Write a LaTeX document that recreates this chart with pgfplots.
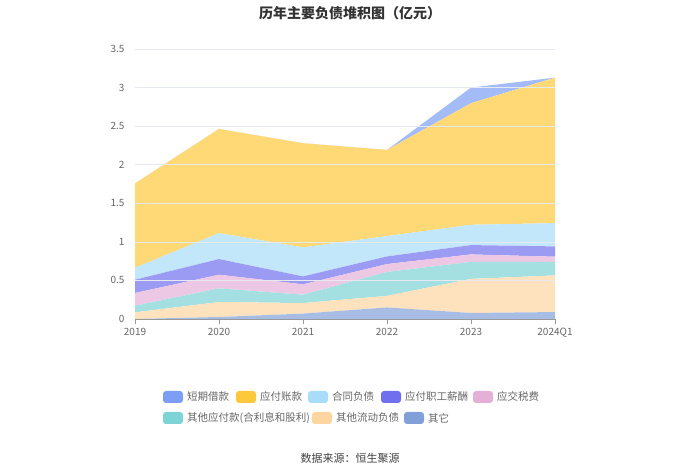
\documentclass[border=0pt]{standalone}
\usepackage{pgfplots}
\pgfplotsset{compat=1.18}
\usepackage{fontspec}
\setmainfont{Liberation Sans}
\newfontfamily\cjk{Noto Sans CJK SC}
\definecolor{cA}{HTML}{7C9FF5}
\definecolor{cB}{HTML}{FDC83C}
\definecolor{cC}{HTML}{A8DCF8}
\definecolor{cD}{HTML}{7070EF}
\definecolor{cE}{HTML}{E5B0D8}
\definecolor{cF}{HTML}{7DD3D5}
\definecolor{cG}{HTML}{FDD5A0}
\definecolor{cH}{HTML}{82A0D8}
\definecolor{gridc}{HTML}{E6E9F0}
\definecolor{txt}{HTML}{666666}
\begin{document}
\begin{tikzpicture}[x=1pt,y=1pt]
\path[use as bounding box] (0,0) rectangle (700,473);
\begin{axis}[
  at={(135pt,154pt)}, anchor=origin,
  scale only axis, width=420pt, height=270pt,
  xmin=0, xmax=5, ymin=0, ymax=3.5,
  stack plots=y, area style,
  xtick={0,1,2,3,4,5},
  xticklabels={2019,2020,2021,2022,2023,2024Q1},
  ytick={0,0.5,1,1.5,2,2.5,3,3.5},
  yticklabels={0,0.5,1,1.5,2,2.5,3,3.5},
  ymajorgrids, grid style={gridc, line width=0.6pt},
  separate axis lines,
  axis x line*=bottom, axis y line*=left,
  y axis line style={draw=none},
  x axis line style={draw=gray!80, line width=0.6pt},
  tick align=outside, major tick length=5pt,
  ytick style={draw=none},
  xtick style={draw=gray!80, line width=0.6pt},
  ticklabel style={font=\cjk\fontsize{10}{12}\selectfont, text=txt},
  yticklabel style={xshift=-2pt},
  xticklabel style={yshift=-1pt},
  clip=false,
]
% bottom: 其它
\addplot[draw=none, fill=cH!70!white] coordinates {(0,0) (1,0.026) (2,0.07) (3,0.15) (4,0.078) (5,0.09)} \closedcycle;
% 其他流动负债
\addplot[draw=none, fill=cG!70!white] coordinates {(0,0.086) (1,0.194) (2,0.137) (3,0.15) (4,0.442) (5,0.475)} \closedcycle;
% 其他应付款
\addplot[draw=none, fill=cF!70!white] coordinates {(0,0.087) (1,0.177) (2,0.108) (3,0.31) (4,0.22) (5,0.175)} \closedcycle;
% 应交税费
\addplot[draw=none, fill=cE!70!white] coordinates {(0,0.164) (1,0.177) (2,0.134) (3,0.102) (4,0.097) (5,0.067)} \closedcycle;
% 应付职工薪酬
\addplot[draw=none, fill=cD!70!white] coordinates {(0,0.172) (1,0.203) (2,0.103) (3,0.099) (4,0.121) (5,0.134)} \closedcycle;
% 合同负债
\addplot[draw=none, fill=cC!70!white] coordinates {(0,0.156) (1,0.336) (2,0.376) (3,0.264) (4,0.263) (5,0.302)} \closedcycle;
% 应付账款
\addplot[draw=none, fill=cB!70!white] coordinates {(0,1.092) (1,1.351) (2,1.351) (3,1.117) (4,1.576) (5,1.886)} \closedcycle;
% 短期借款
\addplot[draw=none, fill=cA!70!white] coordinates {(0,0) (1,0) (2,0) (3,0) (4,0.203) (5,0)} \closedcycle;
\end{axis}
% title
\node[font=\cjk\bfseries\fontsize{14}{16}\selectfont, text=black!80] at (350,460) {历年主要负债堆积图（亿元）};
% legend
\tikzset{lt/.style={anchor=west, inner sep=0pt, font=\cjk\fontsize{10.5}{12}\selectfont, text=txt}}
\def\legitem#1#2#3#4{\fill[#3, rounded corners=3pt] (#1,#2-6) rectangle (#1+20,#2+6); \node[lt] at (#1+24,#2) {#4};}
\legitem{163}{76}{cA}{短期借款}
\legitem{236}{76}{cB}{应付账款}
\legitem{308}{76}{cC}{合同负债}
\legitem{381}{76}{cD}{应付职工薪酬}
\legitem{473}{76}{cE}{应交税费}
\legitem{163}{55}{cF}{其他应付款(合利息和股利)}
\legitem{312}{55}{cG}{其他流动负债}
\legitem{404}{55}{cH}{其它}
% source
\node[font=\cjk\fontsize{11}{13}\selectfont, text=black!75] at (350,15) {数据来源：恒生聚源};
\end{tikzpicture}
\end{document}
